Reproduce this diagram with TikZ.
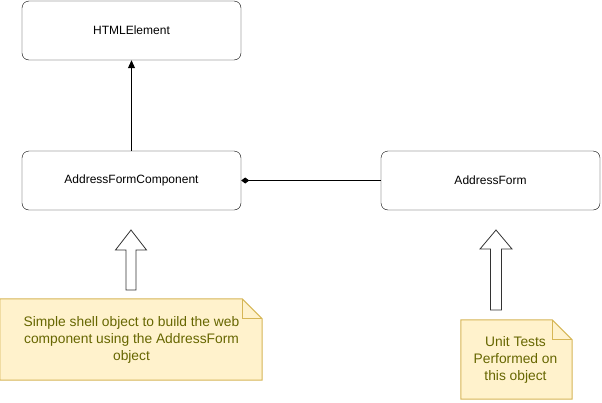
\documentclass[tikz,border=0pt]{standalone}
\usepackage{fontspec}
\setmainfont{Liberation Sans}
\usepackage{tikz}
\usetikzlibrary{arrows.meta,shapes,positioning,calc}
\usepackage{xcolor}
\definecolor{notefill}{RGB}{255,242,204}
\definecolor{notedraw}{RGB}{214,182,86}
\definecolor{notetext}{RGB}{102,102,0}
\tikzstyle{classbox} = [rectangle, rounded corners=7pt, draw=black, fill=white, minimum width=219pt, minimum height=59pt, font=\fontsize{12}{14}\selectfont]
\tikzstyle{notebox} = [rectangle, inner sep=0pt, text=notetext, align=center, font=\fontsize{13.8}{17}\selectfont]
\tikzstyle{noteline} = [draw=notedraw, fill=notefill, line width=1pt]
\tikzstyle{blockarrow} = [draw=black!80, fill=white, line width=0.8pt, line join=miter]
\tikzstyle{inherit} = [line width=1pt, -{Triangle[length=8pt,width=7pt]}]
\tikzstyle{compose} = [line width=1pt, -{Diamond[length=8pt,width=6pt]}]

\begin{document}
\begin{tikzpicture}[x=1pt,y=-1pt]
\useasboundingbox (0,0) rectangle (602,402);
% Classes
\node[classbox] (html) at (131.5,30.5) {HTMLElement};
\node[classbox] (afc) at (131.5,180.5) {AddressFormComponent};
\node[classbox] (af) at (490.5,180.5) {AddressForm};

% Relations
\draw[inherit] (afc) -- (html);
\draw[compose] (af) -- (afc);

% Notes
\node[notebox, minimum width=262pt, minimum height=81pt] (note1) at (131,339.5) {};
\node[notebox, minimum width=111pt, minimum height=79pt] (note2) at (516.5,359.5) {};
\foreach \n in {note1,note2} {
    \draw[noteline] (\n.south west) -- (\n.north west) -- ($(\n.north east)+(-20,0)$)
        -- ($(\n.north east)+(0,20)$) -- (\n.south east) -- cycle;
    \draw[noteline, fill=none] ($(\n.north east)+(-20,0)$) -- ++(0,20) -- ($(\n.north east)+(0,20)$);
}
\node[notebox] at ($(note1.center)+(0.5,0)$) {Simple shell object to build the web\\component using the AddressForm\\object};
\node[notebox] at ($(note2.center)+(-1,0.5)$) {Unit Tests\\Performed on\\this object};

% Block arrows
\coordinate (tip1) at (131,230);
\coordinate (tip2) at (496,230);
\draw[blockarrow] (tip1) -- ++(15.5,20) -- ++(-10.5,0) -- ++(0,40) -- ++(-10,0) -- ++(0,-40) -- ++(-10.5,0) -- cycle;
\draw[blockarrow] (tip2) -- ++(16,19) -- ++(-10.5,0) -- ++(0,61) -- ++(-11,0) -- ++(0,-61) -- ++(-10.5,0) -- cycle;
\end{tikzpicture}
\end{document}
